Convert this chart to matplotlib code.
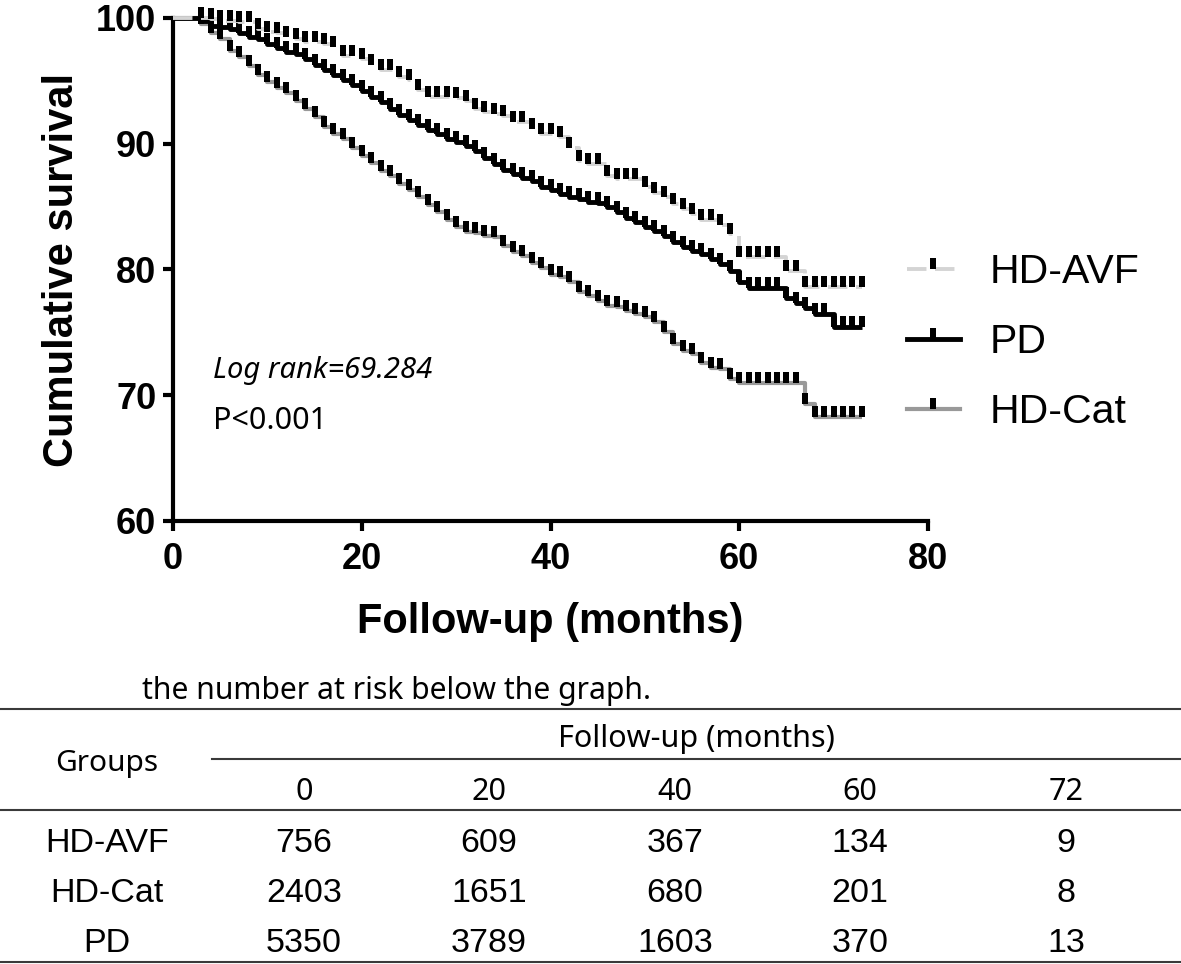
import matplotlib
matplotlib.use("Agg")
import matplotlib.pyplot as plt
from matplotlib.lines import Line2D
from matplotlib.path import Path

# ---------------- data ----------------
months = [0] + list(range(3, 74))

hd_avf = [100.0,
          100.0, 99.9, 99.8, 99.8, 99.7, 99.7, 99.1, 98.9, 98.8, 98.5,   # 3-12
          98.3, 98.1, 98.1, 97.9, 97.7, 97.0, 97.0, 96.7, 96.3, 95.9,    # 13-22
          95.9, 95.3, 95.1, 94.3, 93.7, 93.7, 93.7, 93.6, 93.4, 92.8,    # 23-32
          92.5, 92.4, 92.2, 91.7, 91.7, 91.2, 90.8, 90.8, 90.5, 89.7,    # 33-42
          88.6, 88.4, 88.4, 87.4, 87.2, 87.2, 87.2, 86.6, 86.1, 85.8,    # 43-52
          85.2, 84.8, 84.4, 83.9, 83.9, 83.5, 82.8, 81.0, 81.0, 81.0,    # 53-62
          81.0, 81.0, 79.9, 79.9, 78.6, 78.6, 78.6, 78.6, 78.6, 78.6,    # 63-72
          78.6]                                                          # 73

pd_ = [100.0,
       99.8, 99.4, 99.3, 99.1, 98.8, 98.5, 98.3, 97.9, 97.6, 97.3,      # 3-12
       97.1, 96.7, 96.3, 95.9, 95.5, 95.1, 94.7, 94.2, 93.7, 93.3,      # 13-22
       92.8, 92.3, 91.9, 91.5, 91.1, 90.8, 90.4, 90.1, 89.8, 89.4,      # 23-32
       88.9, 88.4, 87.9, 87.6, 87.3, 87.0, 86.6, 86.3, 86.0, 85.8,      # 33-42
       85.6, 85.4, 85.3, 85.0, 84.6, 84.1, 83.8, 83.4, 83.1, 82.7,      # 43-52
       82.2, 81.8, 81.5, 81.2, 80.8, 80.4, 79.9, 79.0, 78.5, 78.5,      # 53-62
       78.5, 78.5, 77.7, 77.3, 76.9, 76.5, 76.5, 75.4, 75.4, 75.4,      # 63-72
       75.4]                                                            # 73

hd_cat = [100.0,
          99.5, 98.8, 98.3, 97.4, 96.9, 96.2, 95.5, 94.9, 94.4, 94.0,    # 3-12
          93.4, 92.8, 92.1, 91.3, 90.8, 90.4, 89.7, 89.0, 88.5, 87.8,    # 13-22
          87.4, 86.8, 86.3, 85.8, 85.1, 84.6, 83.9, 83.4, 83.0, 82.9,    # 23-32
          82.7, 82.6, 81.9, 81.4, 81.1, 80.5, 80.1, 79.6, 79.4, 79.0,    # 33-42
          78.2, 77.9, 77.5, 77.1, 77.0, 76.7, 76.5, 76.2, 75.8, 75.0,    # 43-52
          74.1, 73.5, 73.3, 72.6, 72.2, 72.1, 71.3, 71.0, 71.0, 71.0,    # 53-62
          71.0, 71.0, 71.0, 71.0, 69.3, 68.3, 68.3, 68.3, 68.3, 68.3,    # 63-72
          68.3]                                                          # 73

group_names = ["HD-AVF", "PD", "HD-Cat"]

table_groups = ["HD-AVF", "HD-Cat", "PD"]
table_times = ["0", "20", "40", "60", "72"]
risk_hd_avf = [756, 609, 367, 134, 9]
risk_hd_cat = [2403, 1651, 680, 201, 8]
risk_pd = [5350, 3789, 1603, 370, 13]

# ---------------- figure ----------------
W, H = 1181, 964
fig = plt.figure(figsize=(W / 100, H / 100), dpi=100)
fig.patch.set_facecolor("white")

# overlay axes in pixel units (for annotations and the table)
tax = fig.add_axes([0, 0, 1, 1])
tax.set_xlim(0, W)
tax.set_ylim(H, 0)
tax.axis("off")

ax = fig.add_axes([173 / W, 1 - 521 / H, 755 / W, 503 / H])
ax.set_facecolor("none")

# censor tick marker: vertical bar above the line
tick_path = Path([(-0.24, 0.0), (0.24, 0.0), (0.24, 1.0), (-0.24, 1.0), (-0.24, 0.0)],
                 [Path.MOVETO, Path.LINETO, Path.LINETO, Path.LINETO, Path.CLOSEPOLY])
MS = 16.5

styles = {
    "HD-AVF": dict(color="#d4d4d4", lw=2.8, ls=(0, (5, 2.2))),
    "PD": dict(color="black", lw=3.5, ls="-"),
    "HD-Cat": dict(color="#999999", lw=3.0, ls="-"),
}
series = {"HD-AVF": hd_avf, "PD": pd_, "HD-Cat": hd_cat}
zorders = {"HD-Cat": 3, "PD": 4, "HD-AVF": 5}

for name in ["HD-Cat", "PD", "HD-AVF"]:
    st = styles[name]
    vals = series[name]
    ax.step(months, vals, where="post", color=st["color"], lw=st["lw"],
            ls=st["ls"], zorder=zorders[name], clip_on=False, solid_capstyle="butt")
    ax.plot(months[1:], vals[1:], ls="none", marker=tick_path, markersize=MS,
            markerfacecolor="black", markeredgewidth=0, zorder=zorders[name] + 0.5,
            clip_on=False)

ax.set_xlim(0, 80)
ax.set_ylim(60, 100)
ax.set_xticks([0, 20, 40, 60, 80])
ax.set_yticks([60, 70, 80, 90, 100])
for s in ["top", "right"]:
    ax.spines[s].set_visible(False)
for s in ["left", "bottom"]:
    ax.spines[s].set_linewidth(3.0)
ax.tick_params(axis="both", direction="out", length=7, width=3.0, labelsize=26)
ax.tick_params(axis="x", pad=8)
ax.tick_params(axis="y", pad=5)
for lab in ax.get_xticklabels() + ax.get_yticklabels():
    lab.set_fontweight("bold")
    lab.set_fontfamily("Liberation Sans")

ax.set_xlabel("Follow-up (months)", fontsize=30, fontweight="bold",
              family="Liberation Sans", labelpad=18)
ax.set_ylabel("Cumulative survival", fontsize=30, fontweight="bold",
              family="Liberation Sans", labelpad=10)

# legend
handles = []
for name in group_names:
    st = styles[name]
    handles.append(Line2D([0], [0], color=st["color"], lw=st["lw"], ls=st["ls"],
                          marker=tick_path, markersize=MS, markerfacecolor="black",
                          markeredgewidth=0))
leg = ax.legend(handles, group_names, loc="center left", bbox_to_anchor=(0.972, 0.355),
                frameon=False, borderpad=0, borderaxespad=0, handlelength=1.3,
                handletextpad=0.72, labelspacing=0.78, numpoints=1,
                prop={"family": "Liberation Sans", "size": 29.5})

tax.text(213, 378, "Log rank=69.284", fontsize=21, style="italic",
         family="Noto Sans", va="baseline", ha="left")
tax.text(213, 429, "P<0.001", fontsize=22, family="Noto Sans",
         va="baseline", ha="left")

# ---------------- number-at-risk table ----------------
tax.text(142, 699, "the number at risk below the graph.", fontsize=21.7,
         family="Noto Sans", va="baseline", ha="left")

line_col = "#3a3a3a"
tax.plot([0, W], [709, 709], color=line_col, lw=1.5)
tax.plot([212, W], [759, 759], color=line_col, lw=1.5)
tax.plot([0, W], [810, 810], color=line_col, lw=1.5)
tax.plot([0, W], [962, 962], color=line_col, lw=1.5)

tax.text(696, 739, "Follow-up (months)", fontsize=22, family="Noto Sans",
         ha="center", va="center")
tax.text(107, 764, "Groups", fontsize=21.5, family="Noto Sans",
         ha="center", va="center")

col_x = [304, 489, 675, 860, 1066]
for x, t in zip(col_x, table_times):
    tax.text(x, 792, t, fontsize=22, family="Noto Sans", ha="center", va="center")

row_y = [843, 894, 944]
rows = [risk_hd_avf, risk_hd_cat, risk_pd]
for y, g, r in zip(row_y, table_groups, rows):
    tax.text(107, y, g, fontsize=24.5, family="Liberation Sans", ha="center", va="center")
    for x, v in zip(col_x, r):
        tax.text(x, y, str(v), fontsize=24.5, family="Liberation Sans",
                 ha="center", va="center")

fig.savefig("out.png", dpi=100, facecolor="white")
